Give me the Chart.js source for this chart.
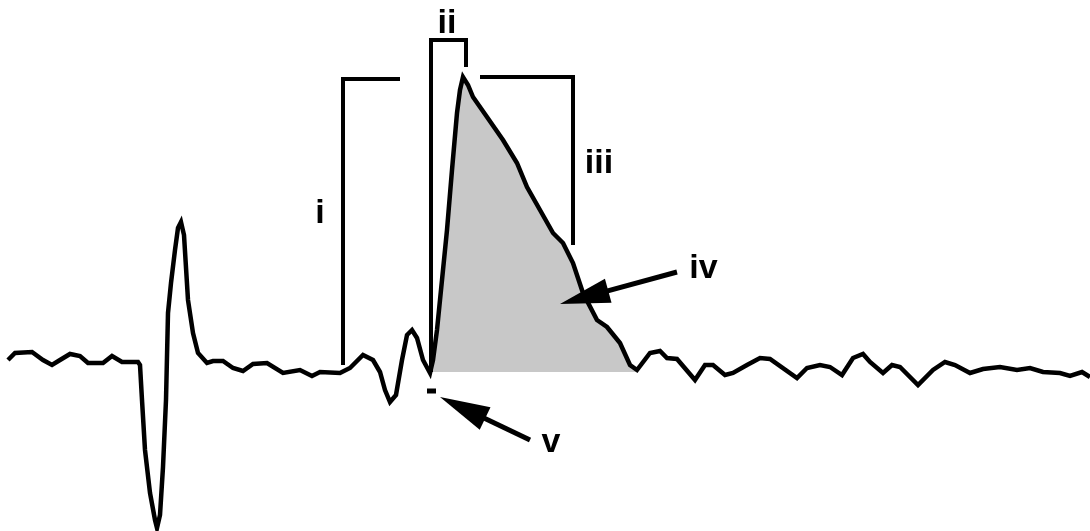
<!DOCTYPE html>
<html>
<head>
<meta charset="utf-8">
<script src="https://cdn.jsdelivr.net/npm/chart.js@4/dist/chart.umd.min.js"></script>
<style>
html,body{margin:0;padding:0;background:#fff;}
#wrap{width:1090px;height:531px;position:relative;}
</style>
</head>
<body>
<div id="wrap"><canvas id="c" width="1090" height="531"></canvas></div>
<script>
// Time (x) and amplitude (y, 0 = baseline)
const traceX = [8,15,32,43,52,60,70,80,88,103,112,122,138,140,142,145,150,155,157,160,163,166,168,171,175,178,181,184,188,193,198,207,213,223,233,243,253,267,283,300,312,320,340,350,363,373,380,385,390,396,402,407,412,417,423,430,433,437,442,447,452,457,460,463,468,473,487,503,517,527,540,553,563,573,583,597,607,620,630,637,650,660,667,677,695,705,713,725,733,747,760,770,797,807,820,830,842,853,863,870,883,892,900,918,933,945,955,970,983,1000,1017,1030,1043,1060,1070,1082,1090];
const traceY = [12,19,20,12,7,12,18,16,9,9,16,10,10,7,-28,-78,-121,-148,-156,-143,-95,-28,59,89,122,144,150,137,72,39,19,9,11,11,4,1,8,9,-1,2,-4,0,-1,4,17,12,0,-18,-30,-23,12,37,42,34,12,-1,12,42,92,142,202,259,282,295,287,275,255,232,209,185,162,139,129,109,79,52,45,29,7,2,19,21,14,13,-8,7,7,-3,-1,7,14,13,-6,4,7,5,-3,14,18,10,-1,7,5,-13,2,10,7,-1,3,5,2,4,0,-1,-4,0,-5];
// Shaded area (iv) limits
const shadeFrom = 430, shadeTo = 637;
// Bracket polylines
const bracketI   = {x:[343,343,400], y:[7,293,293]};
const bracketII  = {x:[431,431,466,466], y:[0,332,332,305]};
const bracketIII = {x:[480,573,573], y:[295,295,127]};
const markV      = {x:[427,436], y:[-19,-19]};
// Arrows: tail -> tip
const arrowIV = {x:[677,560], y:[100,68]};
const arrowV  = {x:[530,440], y:[-68,-25]};
// Labels (x centre, baseline y)
const labelText = ["i","ii","iii","iv","v"];
const labelX    = [320,447,599,703.5,551];
const labelY    = [149,339,199,94,-80];

const pts = (xs, ys) => xs.map((x,i)=>({x:x, y:ys[i]}));
const tracePts = pts(traceX, traceY);
const shadePts = tracePts.filter(p => p.x >= shadeFrom && p.x <= shadeTo);

const lineDs = (data, w) => ({data, showLine:true, borderColor:'#000', borderWidth:w, pointRadius:0, fill:false, tension:0, borderCapStyle:'butt', borderJoinStyle:'miter'});

const annot = {
  id:'annot',
  afterDatasetsDraw(chart){
    const ctx = chart.ctx, xs = chart.scales.x, ys = chart.scales.y;
    ctx.save();
    [arrowIV, arrowV].forEach(a=>{
      const x0 = xs.getPixelForValue(a.x[0]), y0 = ys.getPixelForValue(a.y[0]);
      const x1 = xs.getPixelForValue(a.x[1]), y1 = ys.getPixelForValue(a.y[1]);
      const ang = Math.atan2(y1-y0, x1-x0);
      const L = 50, W = 12.5;
      const bx = x1 - L*Math.cos(ang), by = y1 - L*Math.sin(ang);
      ctx.strokeStyle='#000'; ctx.lineWidth=5;
      ctx.beginPath(); ctx.moveTo(x0,y0); ctx.lineTo(bx+10*Math.cos(ang),by+10*Math.sin(ang)); ctx.stroke();
      ctx.fillStyle='#000';
      ctx.beginPath();
      ctx.moveTo(x1,y1);
      ctx.lineTo(bx - W*Math.sin(ang), by + W*Math.cos(ang));
      ctx.lineTo(bx + W*Math.sin(ang), by - W*Math.cos(ang));
      ctx.closePath(); ctx.fill();
    });
    ctx.fillStyle='#000';
    ctx.textAlign='center'; ctx.textBaseline='alphabetic';
    ctx.font = 'bold 34px "Liberation Sans", Arial, sans-serif';
    labelText.forEach((t,i)=>{
      ctx.fillText(t, xs.getPixelForValue(labelX[i]), ys.getPixelForValue(labelY[i]));
    });
    ctx.restore();
  }
};

new Chart(document.getElementById('c'), {
  type:'scatter',
  data:{datasets:[
    {data:shadePts, showLine:true, borderWidth:0, borderColor:'rgba(0,0,0,0)', backgroundColor:'#c8c8c8', pointRadius:0, fill:{value:0}, order:5},
    Object.assign(lineDs(tracePts, 4.5), {order:1}),
    Object.assign(lineDs(pts(bracketI.x, bracketI.y), 4), {order:2}),
    Object.assign(lineDs(pts(bracketII.x, bracketII.y), 4), {order:2}),
    Object.assign(lineDs(pts(bracketIII.x, bracketIII.y), 4), {order:2}),
    Object.assign(lineDs(pts(markV.x, markV.y), 5), {order:2})
  ]},
  options:{
    responsive:false, animation:false,
    layout:{padding:0},
    plugins:{legend:{display:false}, tooltip:{enabled:false}},
    scales:{
      x:{type:'linear', min:0, max:1090, display:false},
      y:{type:'linear', min:-159, max:372, display:false}
    }
  },
  plugins:[annot]
});
</script>
</body>
</html>
